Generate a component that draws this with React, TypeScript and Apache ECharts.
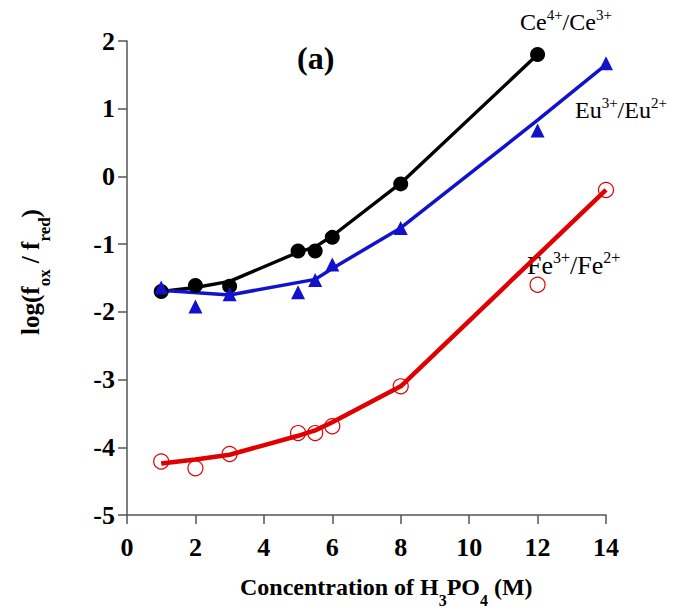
import React, { useEffect, useRef } from "react";
import * as echarts from "echarts";

const ceX = [1, 2, 3, 5, 5.5, 6, 8, 12];
const ceY = [-1.7, -1.61, -1.62, -1.1, -1.1, -0.9, -0.11, 1.8];
const ceFitX = [1, 2, 3, 5, 5.5, 6, 8, 12];
const ceFitY = [-1.7, -1.64, -1.55, -1.12, -1.04, -0.88, -0.1, 1.8];

const euX = [1, 2, 3, 5, 5.5, 6, 8, 12, 14];
const euY = [-1.64, -1.92, -1.74, -1.71, -1.53, -1.3, -0.76, 0.68, 1.67];
const euFitX = [1, 3, 5.5, 6, 8, 12, 14];
const euFitY = [-1.68, -1.75, -1.52, -1.36, -0.76, 0.83, 1.65];

const feX = [1, 2, 3, 5, 5.5, 6, 8, 12, 14];
const feY = [-4.21, -4.31, -4.1, -3.79, -3.79, -3.69, -3.1, -1.6, -0.2];
const feFitX = [1, 2, 3, 5, 5.5, 6, 8, 14];
const feFitY = [-4.24, -4.18, -4.11, -3.83, -3.75, -3.63, -3.1, -0.2];

const xTicks = { min: 0, max: 14, interval: 2 };
const yTicks = { min: -5, max: 2, interval: 1 };

const pairs = (xs: number[], ys: number[]) => xs.map((x, i) => [x, ys[i]]);

const SERIF = "'Liberation Serif', 'Times New Roman', serif";
const BLACK = "#000000";
const BLUE = "#1212cc";
const RED = "#e00000";
const AXIS = "#555555";

export default function App() {
  const ref = useRef<HTMLDivElement>(null);
  useEffect(() => {
    document.body.style.margin = "0";
    const chart = echarts.init(ref.current!, null, { renderer: "svg" });
    const axisCommon = {
      type: "value" as const,
      splitLine: { show: false },
      axisLine: { show: true, onZero: false, lineStyle: { color: AXIS, width: 1.5 } },
      axisTick: { show: true, inside: false, length: 9, lineStyle: { color: AXIS, width: 1.5 } },
      axisLabel: {
        color: "#000",
        fontFamily: SERIF,
        fontWeight: "bold" as const,
        fontSize: 26,
      },
    };
    const supRich = (color: string, big: number, small: number) => ({
      n: { fontFamily: SERIF, fontSize: big, color, lineHeight: big + 6 },
      s: { fontFamily: SERIF, fontSize: small, color, verticalAlign: "top" as const, lineHeight: small },
    });
    const subRich = (big: number, small: number, lh: number) => ({
      n: {
        fontFamily: SERIF,
        fontSize: big,
        fontWeight: "bold",
        color: "#000",
        verticalAlign: "top",
        lineHeight: lh,
      },
      b: {
        fontFamily: SERIF,
        fontSize: small,
        fontWeight: "bold",
        color: "#000",
        verticalAlign: "bottom",
        lineHeight: lh,
      },
    });
    chart.setOption({
      animation: false,
      backgroundColor: "#ffffff",
      grid: { left: 127, right: 68, top: 41, bottom: 94 },
      xAxis: {
        ...axisCommon,
        ...xTicks,
        axisLabel: { ...axisCommon.axisLabel, margin: 19 },
      },
      yAxis: {
        ...axisCommon,
        ...yTicks,
        axisLabel: { ...axisCommon.axisLabel, margin: 12 },
      },
      series: [
        {
          type: "line",
          data: pairs(ceFitX, ceFitY),
          showSymbol: false,
          symbol: "none",
          lineStyle: { color: BLACK, width: 3.4 },
          z: 2,
        },
        {
          type: "line",
          data: pairs(euFitX, euFitY),
          showSymbol: false,
          symbol: "none",
          lineStyle: { color: BLUE, width: 3.5 },
          z: 2,
        },
        {
          type: "line",
          data: pairs(feFitX, feFitY),
          showSymbol: false,
          symbol: "none",
          lineStyle: { color: RED, width: 4.5 },
          z: 2,
        },
        {
          type: "scatter",
          data: pairs(ceX, ceY),
          symbol: "circle",
          symbolSize: 15,
          itemStyle: { color: BLACK, opacity: 1 },
          z: 3,
        },
        {
          type: "scatter",
          data: pairs(euX, euY),
          symbol: "triangle",
          symbolSize: 14,
          itemStyle: { color: BLUE, opacity: 1 },
          z: 3,
        },
        {
          type: "scatter",
          data: pairs(feX, feY),
          symbol: "circle",
          symbolSize: 15,
          itemStyle: { color: "rgba(0,0,0,0)", borderColor: RED, borderWidth: 1.2, opacity: 1 },
          z: 3,
        },
      ],
      graphic: [
        {
          type: "text",
          left: 297,
          top: 42,
          style: { text: "(a)", font: `bold 32px ${SERIF}`, fill: "#000" },
        },
        {
          type: "text",
          left: 520,
          top: 7,
          style: { text: "{n|Ce}{s|4+}{n|/Ce}{s|3+}", rich: supRich(BLACK, 24, 15) },
        },
        {
          type: "text",
          left: 575,
          top: 95,
          style: { text: "{n|Eu}{s|3+}{n|/Eu}{s|2+}", rich: supRich(BLUE, 24, 15) },
        },
        {
          type: "text",
          left: 527,
          top: 249,
          style: { text: "{n|Fe}{s|3+}{n|/Fe}{s|2+}", rich: supRich(RED, 26, 16) },
        },
        {
          type: "text",
          left: 240,
          top: 575,
          style: {
            text: "{n|Concentration of H}{b|3}{n|PO}{b|4}{n| (M)}",
            rich: subRich(24, 16, 33),
          },
        },
        {
          type: "text",
          x: 35,
          y: 272,
          rotation: Math.PI / 2,
          style: {
            text: "{n|log(f}{b|ox}{n| / f}{b|red}{n|)}",
            align: "center",
            verticalAlign: "middle",
            rich: subRich(25, 17, 35),
          },
        },
      ],
    });
    return () => chart.dispose();
  }, []);
  return <div ref={ref} style={{ width: 674, height: 609 }} />;
}
